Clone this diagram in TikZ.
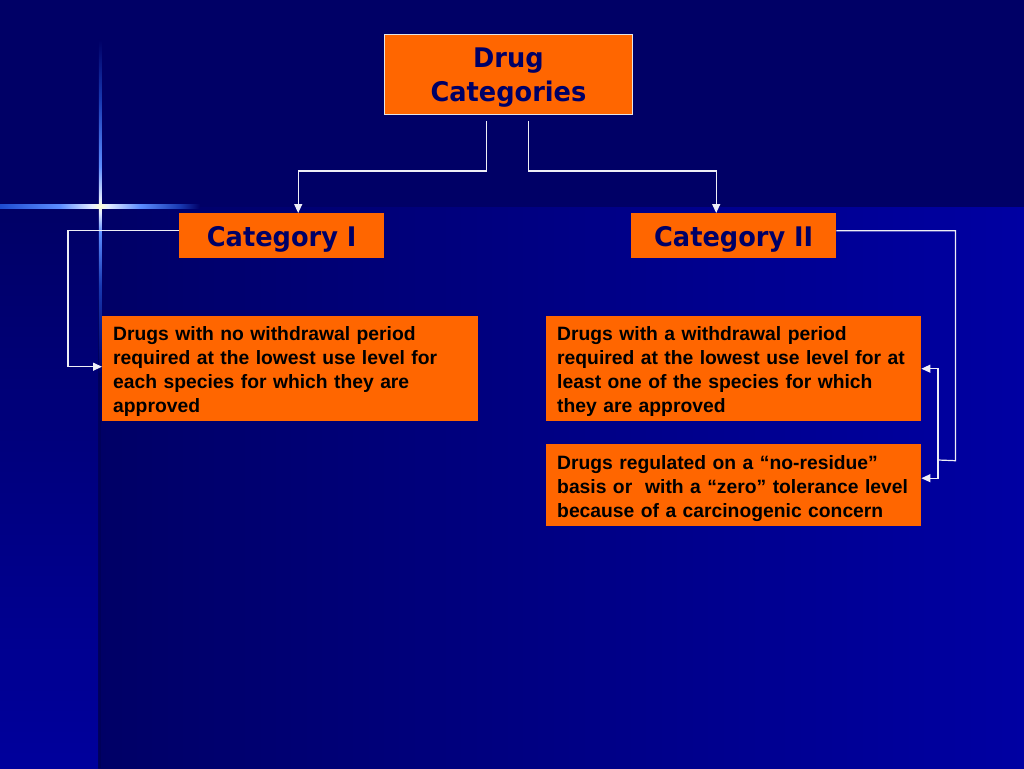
\documentclass[tikz,border=0pt]{standalone}
\usepackage{fontspec}
\setmainfont{Liberation Sans}
\newfontfamily\tahfont[FakeStretch=0.95]{DejaVu Sans}
\usetikzlibrary{arrows.meta}
\definecolor{bgnavy}{HTML}{000066}
\definecolor{bgblue}{HTML}{0000A2}
\definecolor{stripbot}{HTML}{00009C}
\definecolor{orng}{HTML}{FF6600}
\definecolor{ttl}{HTML}{000066}
\definecolor{wire}{HTML}{EEEEF6}
\definecolor{spA}{HTML}{1E4CD0}
\definecolor{spB}{HTML}{5C8CFF}
\definecolor{spC}{HTML}{E4ECFF}
\definecolor{spW}{HTML}{FFFFD8}
\definecolor{spD}{HTML}{1838B0}
\pgfdeclarehorizontalshading{sparkh}{100bp}{color(0bp)=(spA); color(25bp)=(spA); color(40bp)=(spB); color(48bp)=(spC); color(50bp)=(spW); color(52bp)=(spC); color(60bp)=(spB); color(70bp)=(spD); color(75bp)=(bgnavy); color(100bp)=(bgnavy)}
\pgfdeclareverticalshading{sparkv}{100bp}{color(0bp)=(bgnavy); color(25bp)=(bgnavy); color(38bp)=(spD); color(46bp)=(spB); color(49bp)=(spC); color(50bp)=(spW); color(51bp)=(spC); color(56bp)=(spB); color(66bp)=(spD); color(75bp)=(bgnavy); color(100bp)=(bgnavy)}
\begin{document}
\begin{tikzpicture}[x=1pt,y=-1pt,
  titlebox/.style={fill=orng, draw=white!80!gray, line width=0.9pt, text=ttl,
    font=\tahfont\bfseries\fontsize{27}{34}\selectfont, align=center,
    minimum width=248pt, minimum height=80pt, inner sep=0pt, anchor=north west},
  catbox/.style={fill=orng, text=ttl, font=\tahfont\bfseries\fontsize{27}{32}\selectfont,
    minimum width=205pt, minimum height=45pt, inner sep=0pt, anchor=north west,
    text height=22pt, text depth=0pt},
  descbox/.style={fill=orng, text=black, font=\bfseries\fontsize{19.3}{24}\selectfont,
    align=left, text width=354pt, inner xsep=11pt, inner ysep=0pt, anchor=north west,
    execute at begin node={\rule{0pt}{20pt}}},
  wireline/.style={draw=wire, line width=1.2pt},
  conn/.style={wireline, -{Triangle[length=9pt,width=8pt]}}
]
\useasboundingbox (0,0) rectangle (1024,768);
% background
\fill[bgnavy] (0,0) rectangle (1024,768);
\shade[left color=bgnavy, right color=bgblue] (98,207) rectangle (1024,768);
\shade[top color=bgnavy, bottom color=stripbot] (0,207) rectangle (98,768);
\fill[black, opacity=0.12] (98,300) rectangle (101,768);
% sparkle
\shade[shading=sparkh] (0,204.8) rectangle (200,208.2);
\shade[shading=sparkv] (98.8,40) rectangle (101.4,372);
% nodes
\node[titlebox] (top) at (384,34) {\rule{0pt}{26pt}Drug\\Categories};
\node[catbox] (c1) at (179,213) {Category I};
\node[catbox] (c2) at (631,213) {Category II};
\node[descbox, minimum height=105pt] (d1) at (102,316)
  {Drugs with no withdrawal period\\required at the lowest use level for\\each species for which they are\\approved};
\node[descbox, minimum height=105pt, text width=353pt] (d2) at (546,316)
  {Drugs with a withdrawal period\\required at the lowest use level for at\\least one of the species for which\\they are approved};
\node[descbox, minimum height=82pt, text width=353pt] (d3) at (546,444)
  {Drugs regulated on a “no-residue”\\basis or~ with a “zero” tolerance level\\because of a carcinogenic concern};
% connectors
\coordinate (s1) at ([xshift=-22pt,yshift=-6pt]top.south);
\coordinate (s2) at ([xshift=20pt,yshift=-6pt]top.south);
\draw[conn] (s1) -- ++(0,50) -| ([xshift=16.5pt]c1.north);
\draw[conn] (s2) -- ++(0,50) -| ([xshift=-17.5pt]c2.north);
\draw[conn] ([yshift=5pt]c1.west) -- ++(-111,0) |- ([yshift=2pt]d1.west);
\coordinate (j) at (938,460);
\draw[wireline] ([yshift=5pt]c2.east) -- ++(119,0) -- ++(0,230) -- (j);
\draw[conn] (j) |- (d2.east);
\draw[conn] (j) |- ([yshift=7pt]d3.east);
\end{tikzpicture}
\end{document}
